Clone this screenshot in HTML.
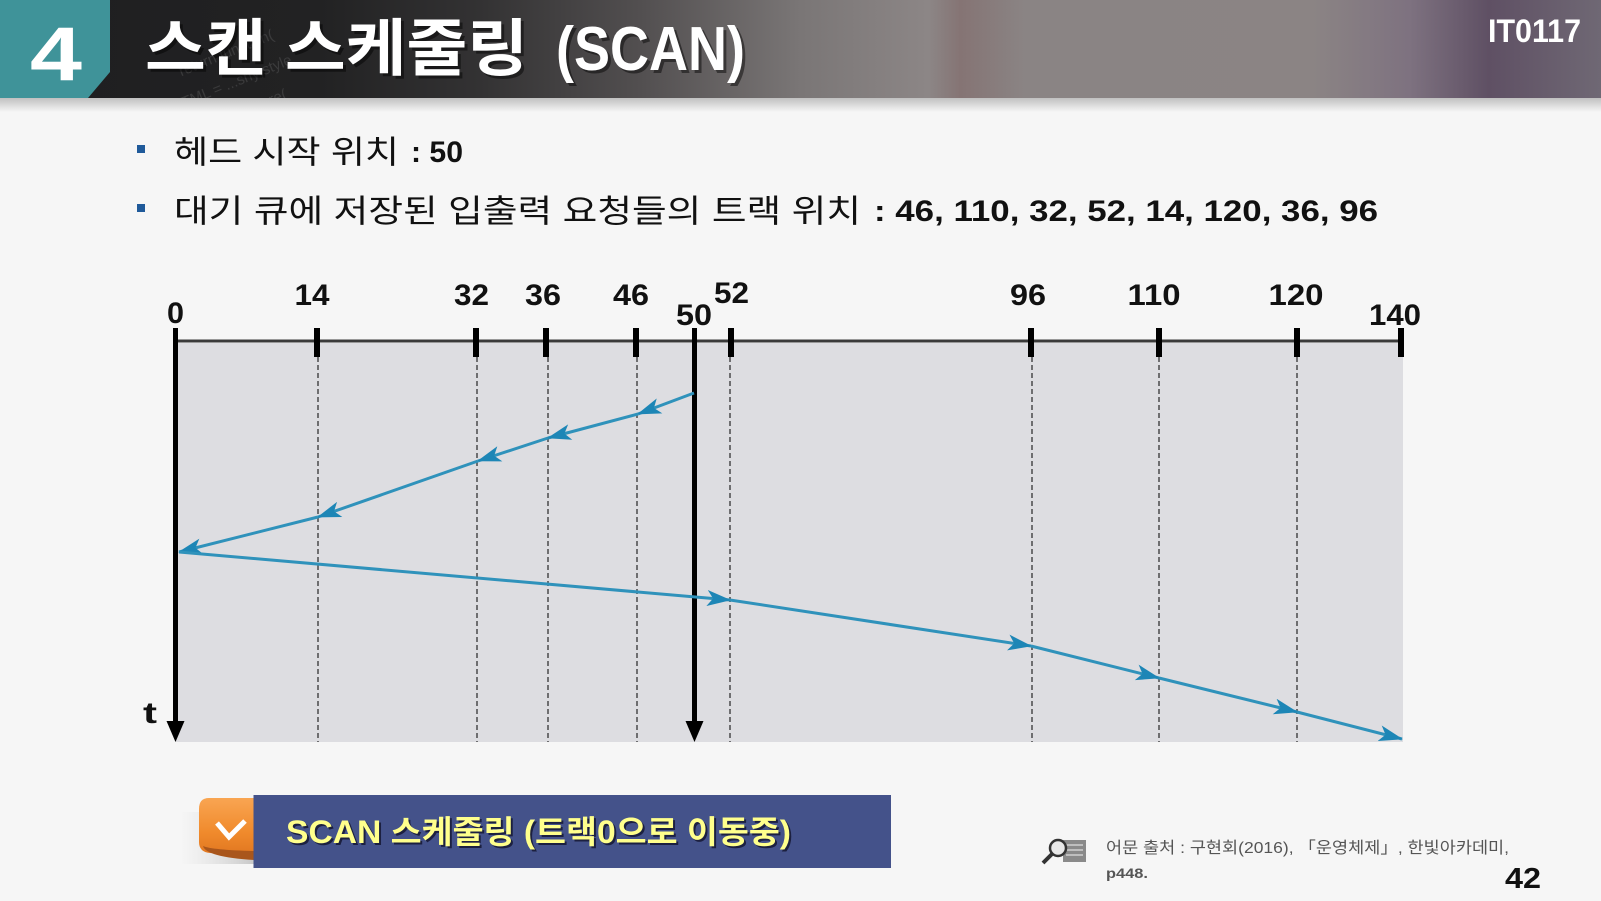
<!DOCTYPE html>
<html><head><meta charset="utf-8"><style>
html,body{margin:0;padding:0;background:#f6f6f6;}
body{width:1601px;height:901px;overflow:hidden;}
svg{display:block;}
text{font-family:"Liberation Sans","Noto Sans CJK KR",sans-serif;}
</style></head><body>
<svg width="1601" height="901" viewBox="0 0 1601 901" xmlns="http://www.w3.org/2000/svg">
<defs>
<clipPath id="hclip"><rect x="0" y="0" width="1601" height="98"/></clipPath>
<linearGradient id="hdr" x1="0" y1="0" x2="1" y2="0">
<stop offset="0" stop-color="#1e1e20"/>
<stop offset="0.2" stop-color="#222223"/>
<stop offset="0.3" stop-color="#333233"/>
<stop offset="0.4" stop-color="#524f50"/>
<stop offset="0.5" stop-color="#7a7676"/>
<stop offset="0.58" stop-color="#8c8686"/>
<stop offset="0.6" stop-color="#857474"/>
<stop offset="0.64" stop-color="#8a8484"/>
<stop offset="0.82" stop-color="#8b8484"/>
<stop offset="0.88" stop-color="#7e7280"/>
<stop offset="0.93" stop-color="#5f5064"/>
<stop offset="1" stop-color="#6f6874"/>
</linearGradient>
<linearGradient id="hsh" x1="0" y1="0" x2="0" y2="1">
<stop offset="0" stop-color="#000" stop-opacity="0.22"/>
<stop offset="1" stop-color="#000" stop-opacity="0"/>
</linearGradient>
<linearGradient id="rib" x1="0" y1="0" x2="0" y2="1">
<stop offset="0" stop-color="#f9a552"/>
<stop offset="0.6" stop-color="#f08a2c"/>
<stop offset="1" stop-color="#e07620"/>
</linearGradient>
<linearGradient id="rsh" x1="0" y1="0" x2="1" y2="0">
<stop offset="0" stop-color="#ccc" stop-opacity="0"/>
<stop offset="1" stop-color="#aaa" stop-opacity="0.6"/>
</linearGradient>
<marker id="ah" markerWidth="24" markerHeight="16" refX="23" refY="8" orient="auto" markerUnits="userSpaceOnUse">
<path d="M0,0 L24,8 L0,16 L6,8 Z" fill="#1d86b6"/>
</marker>
</defs>

<!-- header -->
<rect x="0" y="0" width="1601" height="98" fill="url(#hdr)"/>
<g clip-path="url(#hclip)">
<g fill="#6a6a6a" opacity="0.35" font-size="15" transform="rotate(-22 300 50)">
<text x="180" y="30">return function(</text>
<text x="160" y="60">HTML = ...shy;style</text>
<text x="150" y="90">dEm.insertBefore(</text>
<text x="170" y="118">offsetWidth fmax</text>
</g>
</g>
<rect x="0" y="98" width="1601" height="14" fill="url(#hsh)"/>
<polygon points="0,0 110,0 110,72 88,98 0,98" fill="#3f9399"/>
<text x="30" y="80" font-size="76" font-weight="bold" fill="#fff" textLength="52" lengthAdjust="spacingAndGlyphs">4</text>
<g font-weight="bold">
<text x="148" y="73" font-size="62" fill="#000" opacity="0.45" textLength="383" lengthAdjust="spacingAndGlyphs">스캔 스케줄링</text>
<text x="559" y="73" font-size="62" fill="#000" opacity="0.45" textLength="189" lengthAdjust="spacingAndGlyphs">(SCAN)</text>
<text x="145" y="70" font-size="62" fill="#fff" textLength="383" lengthAdjust="spacingAndGlyphs">스캔 스케줄링</text>
<text x="556" y="70" font-size="62" fill="#fff" textLength="189" lengthAdjust="spacingAndGlyphs">(SCAN)</text>
</g>
<text x="1488" y="42" font-size="32" font-weight="bold" fill="#fff" textLength="93" lengthAdjust="spacingAndGlyphs">IT0117</text>

<!-- bullets -->
<rect x="137" y="145" width="8" height="8" fill="#1f5a9a"/>
<rect x="137" y="204" width="8" height="8" fill="#1f5a9a"/>
<text x="174" y="163" font-size="32" fill="#111" textLength="225" lengthAdjust="spacingAndGlyphs">헤드 시작 위치</text>
<text x="411" y="162" font-size="30" font-weight="bold" fill="#111" textLength="52" lengthAdjust="spacingAndGlyphs">: 50</text>
<text x="174" y="222" font-size="32" fill="#111" textLength="687" lengthAdjust="spacingAndGlyphs">대기 큐에 저장된 입출력 요청들의 트랙 위치</text>
<text x="874" y="221" font-size="30" font-weight="bold" fill="#111" textLength="504" lengthAdjust="spacingAndGlyphs">: 46, 110, 32, 52, 14, 120, 36, 96</text>

<!-- chart -->
<rect x="176" y="343" width="1227" height="399" fill="#dddde1"/>
<line x1="175" y1="341" x2="1403" y2="341" stroke="#3a3a3a" stroke-width="3"/>
<g stroke="#4a4a4a" stroke-width="1.5" stroke-dasharray="5,3">
<line x1="318" y1="357" x2="318" y2="742"/>
<line x1="477" y1="357" x2="477" y2="742"/>
<line x1="548" y1="357" x2="548" y2="742"/>
<line x1="637" y1="357" x2="637" y2="742"/>
<line x1="730" y1="357" x2="730" y2="742"/>
<line x1="1032" y1="357" x2="1032" y2="742"/>
<line x1="1159" y1="357" x2="1159" y2="742"/>
<line x1="1297" y1="357" x2="1297" y2="742"/>
</g>
<g stroke="#000" stroke-width="6">
<line x1="317" y1="328" x2="317" y2="357"/>
<line x1="476" y1="328" x2="476" y2="357"/>
<line x1="546" y1="328" x2="546" y2="357"/>
<line x1="636" y1="328" x2="636" y2="357"/>
<line x1="731" y1="328" x2="731" y2="357"/>
<line x1="1031" y1="328" x2="1031" y2="357"/>
<line x1="1159" y1="328" x2="1159" y2="357"/>
<line x1="1297" y1="328" x2="1297" y2="357"/>
<line x1="1401" y1="328" x2="1401" y2="357"/>
</g>
<line x1="175.5" y1="328" x2="175.5" y2="724" stroke="#000" stroke-width="5"/>
<polygon points="166.5,721 184.5,721 175.5,742" fill="#000"/>
<line x1="694.5" y1="328" x2="694.5" y2="724" stroke="#000" stroke-width="5"/>
<polygon points="685.5,721 703.5,721 694.5,742" fill="#000"/>

<g font-size="30" font-weight="bold" fill="#111" text-anchor="middle">
<text x="175.5" y="323" textLength="17" lengthAdjust="spacingAndGlyphs">0</text>
<text x="312" y="305" textLength="35" lengthAdjust="spacingAndGlyphs">14</text>
<text x="471.5" y="305" textLength="35" lengthAdjust="spacingAndGlyphs">32</text>
<text x="543" y="305" textLength="36" lengthAdjust="spacingAndGlyphs">36</text>
<text x="631" y="305" textLength="36" lengthAdjust="spacingAndGlyphs">46</text>
<text x="694" y="325" textLength="36" lengthAdjust="spacingAndGlyphs">50</text>
<text x="731.5" y="303" textLength="35" lengthAdjust="spacingAndGlyphs">52</text>
<text x="1028" y="305" textLength="36" lengthAdjust="spacingAndGlyphs">96</text>
<text x="1154" y="305" textLength="53" lengthAdjust="spacingAndGlyphs">110</text>
<text x="1296" y="305" textLength="55" lengthAdjust="spacingAndGlyphs">120</text>
<text x="1395" y="325" textLength="52" lengthAdjust="spacingAndGlyphs">140</text>
<text x="150" y="723" textLength="14" lengthAdjust="spacingAndGlyphs">t</text>
</g>

<g stroke="#2f92bb" stroke-width="3" fill="none">
<line x1="694" y1="393" x2="638" y2="414" marker-end="url(#ah)"/>
<line x1="638" y1="414" x2="548" y2="438" marker-end="url(#ah)"/>
<line x1="548" y1="438" x2="478" y2="461" marker-end="url(#ah)"/>
<line x1="478" y1="461" x2="318" y2="517" marker-end="url(#ah)"/>
<line x1="318" y1="517" x2="179" y2="552" marker-end="url(#ah)"/>
<line x1="179" y1="552" x2="730" y2="600" marker-end="url(#ah)"/>
<line x1="730" y1="600" x2="1031" y2="646" marker-end="url(#ah)"/>
<line x1="1031" y1="646" x2="1159" y2="678" marker-end="url(#ah)"/>
<line x1="1159" y1="678" x2="1297" y2="712" marker-end="url(#ah)"/>
<line x1="1297" y1="712" x2="1402" y2="739" marker-end="url(#ah)"/>
</g>

<!-- bottom callout -->
<rect x="180" y="812" width="74" height="52" fill="url(#rsh)"/>
<path d="M254,798 L209,798 Q199,798 199,809 L199,842 Q199,852 210,853 L254,856 Z" fill="url(#rib)"/>
<path d="M203,846 Q206,857 254,860 L254,851 Q212,850 203,846 Z" fill="#a9561c"/>
<polyline points="217,823 229,837 245,821" fill="none" stroke="#fff" stroke-width="5"/>
<rect x="253.5" y="795" width="637.5" height="73" fill="#44528a"/>
<text x="288" y="845" font-size="32" font-weight="bold" fill="#1c2040" textLength="505" lengthAdjust="spacingAndGlyphs">SCAN 스케줄링 (트랙0으로 이동중)</text>
<text x="286" y="843" font-size="32" font-weight="bold" fill="#ffff8c" textLength="505" lengthAdjust="spacingAndGlyphs">SCAN 스케줄링 (트랙0으로 이동중)</text>

<!-- footer -->
<rect x="1063" y="840" width="23" height="22" fill="#8a8a8a"/>
<g stroke="#cfcfcf" stroke-width="1.5">
<line x1="1066" y1="845" x2="1083" y2="845"/>
<line x1="1066" y1="850" x2="1083" y2="850"/>
<line x1="1066" y1="855" x2="1083" y2="855"/>
</g>
<circle cx="1058" cy="848" r="8" fill="#e8e8e8" stroke="#333" stroke-width="2.5"/>
<line x1="1052" y1="854" x2="1043" y2="863" stroke="#333" stroke-width="4"/>
<text x="1106" y="853" font-size="16" fill="#555" textLength="403" lengthAdjust="spacingAndGlyphs">어문 출처 : 구현회(2016), 「운영체제」, 한빛아카데미,</text>
<text x="1106" y="878" font-size="14" font-weight="bold" fill="#555" textLength="42" lengthAdjust="spacingAndGlyphs">p448.</text>
<text x="1505" y="888" font-size="29" font-weight="bold" fill="#111" textLength="36" lengthAdjust="spacingAndGlyphs">42</text>
</svg>
</body></html>
